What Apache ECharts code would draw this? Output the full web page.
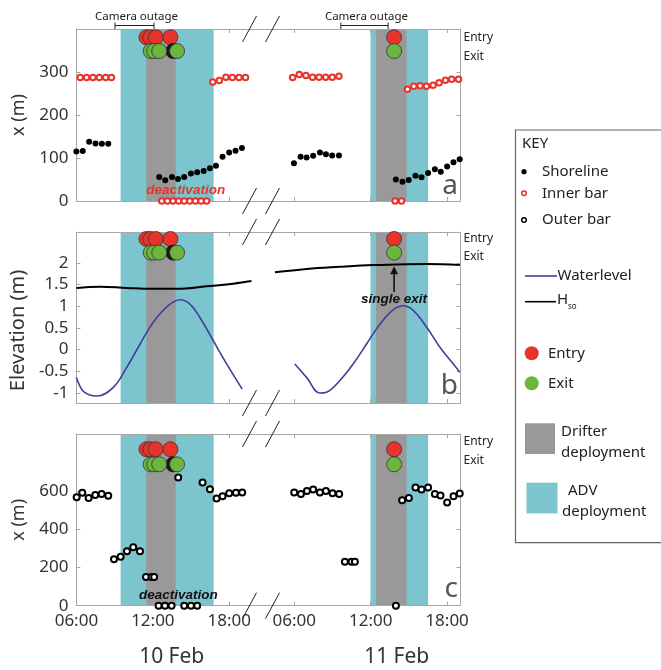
<!DOCTYPE html>
<html>
<head>
<meta charset="utf-8">
<script src="https://cdn.jsdelivr.net/npm/echarts@6/dist/echarts.min.js"></script>
<style>
  html, body { margin: 0; background: #fff; }
  #main { width: 661px; height: 670px; }
</style>
</head>
<body>
<div id="main"></div>
<script>
var FONT = 'Noto Sans';
var ANNOT = 'Liberation Sans';
var D2 = 24;   // 11 Feb times are stored as clock hours and shifted by a day

// time axis (hours since 10 Feb 00:00), broken overnight
var hourTicks = [6, 12, 18, 30, 36, 42];
var breakStart = 19.75, breakEnd = 26.66;

// panel tick labels
var ticksA = [0, 100, 200, 300];
var ticksB = [-1, -0.5, 0, 0.5, 1, 1.5, 2];
var ticksC = [0, 200, 400, 600];

// deployments (clock hours)
var adv1 = [9.47, 16.77], drifter1 = [11.48, 13.79];
var adv2 = [11.99, 16.51], drifter2 = [12.41, 14.82];
var outage1 = [9.03, 12.09], outage2 = [9.66, 13.37];

// drifter entry / exit times
var entry1 = [11.5, 11.8, 12.23, 13.38];
var exit1 = [11.83, 12.1, 12.5, 13.9];
var exitDark1 = [13.6];
var entry2 = [13.84];
var exit2 = [13.84];

// shoreline (m)
var shore1T = [6.0, 6.5, 7.0, 7.5, 8.0, 8.5, 12.5, 12.97, 13.5, 13.97, 14.46, 14.99, 15.48, 15.99, 16.48, 16.95, 17.47, 17.99, 18.49, 18.99];
var shore1X = [115, 116, 138, 134, 133, 133, 56, 48, 56, 51, 56, 64, 67, 70, 76, 82, 103, 113, 117, 123];
var shore2T = [5.98, 6.5, 6.97, 7.49, 8.02, 8.49, 8.98, 9.51, 13.98, 14.5, 14.99, 15.52, 15.99, 16.51, 17.04, 17.5, 18.0, 18.5, 18.99];
var shore2X = [88, 103, 101, 105, 113, 109, 106, 106, 50, 45, 49, 59, 55, 65, 74, 68, 80, 90, 97];

// inner bar (m)
var inner1T = [6.3, 6.8, 7.3, 7.8, 8.3, 8.75, 12.7, 13.14, 13.58, 14.02, 14.46, 14.9, 15.34, 15.78, 16.22, 16.7, 17.22, 17.73, 18.24, 18.76, 19.27];
var inner1X = [287, 287, 287, 287, 287, 287, 0, 0, 0, 0, 0, 0, 0, 0, 0, 277, 280, 288, 287, 287, 287];
var inner2T = [5.88, 6.4, 6.92, 7.44, 7.95, 8.47, 8.99, 9.51, 13.92, 14.42, 14.89, 15.39, 15.88, 16.38, 16.9, 17.37, 17.87, 18.36, 18.89];
var inner2X = [287, 294, 292, 288, 288, 288, 288, 290, 0, 0, 260, 267, 268, 267, 269, 275, 281, 283, 283];

// outer bar (m)
var outer1T = [6.02, 6.46, 6.96, 7.48, 7.98, 8.5, 8.95, 9.47, 9.97, 10.46, 10.99, 11.46, 11.9, 12.1, 12.45, 12.95, 13.47, 13.99, 14.46, 14.99, 15.48, 15.9, 16.48, 17.0, 17.47, 17.99, 18.52, 19.01];
var outer1X = [568, 592, 564, 580, 585, 576, 243, 257, 286, 306, 286, 150, 150, 150, 0, 0, 0, 672, 0, 0, 0, 646, 611, 562, 574, 589, 592, 594];
var outer2T = [6.0, 6.53, 7.0, 7.49, 8.02, 8.49, 9.01, 9.53, 9.98, 10.5, 10.76, 13.98, 14.47, 15.0, 15.52, 15.99, 16.51, 17.04, 17.48, 18.0, 18.5, 18.99];
var outer2X = [594, 585, 601, 609, 594, 601, 589, 586, 230, 230, 230, 0, 553, 565, 620, 609, 620, 585, 578, 541, 574, 588];

// water level (m)
var wl1T = [6.0, 6.5, 7.0, 7.6, 8.9, 9.95, 11.0, 12.03, 13.08, 14.13, 14.91, 15.69, 16.73, 17.79, 19.01];
var wl1V = [-0.64, -0.95, -1.04, -1.07, -0.87, -0.41, 0.13, 0.63, 0.98, 1.15, 1.05, 0.74, 0.21, -0.33, -0.91];
var wl2T = [6.05, 6.97, 8.01, 8.54, 9.59, 10.63, 11.68, 12.74, 13.79, 14.57, 15.36, 16.41, 17.45, 18.49, 19.0];
var wl2V = [-0.33, -0.64, -1.0, -0.98, -0.71, -0.33, 0.13, 0.59, 0.92, 1.01, 0.9, 0.51, 0.05, -0.33, -0.52];

// Hso (m)
var hso1T = [6.0, 7.86, 9.95, 12.03, 13.87, 16.22, 18.31, 19.74];
var hso1V = [1.42, 1.45, 1.42, 1.40, 1.40, 1.46, 1.52, 1.58];
var hso2T = [4.49, 6.97, 9.59, 12.2, 14.03, 16.38, 19.0];
var hso2V = [1.78, 1.86, 1.91, 1.95, 1.96, 1.97, 1.95];

var RED = '#e8332a', GREEN = '#6cb640', CYAN = '#7dc5ce', GREY = '#999999', NAVY = '#3f3f9c';

function pts(t, v, off) {
  return t.map(function (h, i) { return [h + off, v[i]]; });
}
function both(t1, v1, t2, v2) {
  return pts(t1, v1, 0).concat(pts(t2, v2, D2));
}
function at(t, y, off) {
  return t.map(function (h) { return [h + off, y]; });
}
function clock(v) {
  var h = Math.round(v) % 24;
  return (h < 10 ? '0' : '') + h + ':00';
}

var panels = [
  { top: 29, height: 172, min: 0, max: 400, ticks: ticksA, name: 'x (m)', nameSize: 18, entryY: 380.7, exitY: 348.8, tags: [380.7, 337] },
  { top: 232, height: 171, min: -1.23, max: 2.71, ticks: ticksB, name: 'Elevation (m)', nameSize: 20, entryY: 2.55, exitY: 2.235, tags: [2.565, 2.14] },
  { top: 434, height: 171.7, min: 0, max: 900, ticks: ticksC, name: 'x (m)', nameSize: 18, entryY: 820, exitY: 741, tags: [858, 760] }
];

var grids = [], xAxes = [], yAxes = [], series = [];

panels.forEach(function (p, i) {
  grids.push({ left: 76.4, right: 200.5, top: p.top, height: p.height, containLabel: false });

  ['bottom', 'top'].forEach(function (pos) {
    xAxes.push({
      type: 'value', gridIndex: i, position: pos, min: 6, max: 43.05, z: 5,
      breaks: [{ start: breakStart, end: breakEnd, gap: 0 }],
      breakArea: { show: false },
      axisLine: { show: true, onZero: false, lineStyle: { color: '#a6a6a6', width: 1 } },
      splitLine: { show: false },
      axisTick: { show: true, inside: true, length: 4, customValues: hourTicks, lineStyle: { color: '#a6a6a6' } },
      axisLabel: {
        show: pos === 'bottom' && i === 2, customValues: hourTicks, formatter: clock,
        fontSize: 17, color: '#333', margin: 7, fontFamily: FONT
      }
    });
  });

  ['left', 'right'].forEach(function (pos) {
    var left = pos === 'left';
    yAxes.push({
      type: 'value', gridIndex: i, position: pos, min: p.min, max: p.max, z: 5,
      name: left ? p.name : '', nameLocation: 'middle', nameGap: 44,
      nameTextStyle: { fontSize: p.nameSize, color: '#333', fontFamily: FONT, padding: i === 1 ? [0, 26, 0, 0] : 0 },
      axisLine: { show: true, onZero: false, lineStyle: { color: '#a6a6a6', width: 1 } },
      splitLine: { show: false },
      axisTick: { show: true, inside: true, length: 4, customValues: p.ticks, lineStyle: { color: '#a6a6a6' } },
      axisLabel: left ? {
        customValues: p.ticks, fontSize: 17, color: '#333', margin: 8, fontFamily: FONT
      } : {
        customValues: p.tags, fontSize: 12, color: '#222', margin: 3, fontFamily: FONT,
        formatter: function (v) { return Math.abs(v - p.tags[0]) < 1e-6 ? 'Entry' : 'Exit'; }
      }
    });
  });

  var xi = 2 * i, yi = 2 * i;

  // ADV and drifter deployment bands
  series.push({
    type: 'scatter', xAxisIndex: xi, yAxisIndex: yi, data: [], z: 1, silent: true,
    markArea: { silent: true, itemStyle: { color: CYAN, opacity: 1 },
      data: [[{ xAxis: adv1[0] }, { xAxis: adv1[1] }], [{ xAxis: adv2[0] + D2 }, { xAxis: adv2[1] + D2 }]] }
  });
  series.push({
    type: 'scatter', xAxisIndex: xi, yAxisIndex: yi, data: [], z: 2, silent: true,
    markArea: { silent: true, itemStyle: { color: GREY, opacity: 1 },
      data: [[{ xAxis: drifter1[0] }, { xAxis: drifter1[1] }], [{ xAxis: drifter2[0] + D2 }, { xAxis: drifter2[1] + D2 }]] }
  });

  // entry / exit markers
  series.push({
    type: 'scatter', xAxisIndex: xi, yAxisIndex: yi, z: 8, symbolSize: 15,
    itemStyle: { color: RED, borderColor: '#333', borderWidth: 0.8, opacity: 1 },
    data: at(entry1, p.entryY, 0).concat(at(entry2, p.entryY, D2))
  });
  series.push({
    type: 'scatter', xAxisIndex: xi, yAxisIndex: yi, z: 8, symbolSize: 15,
    itemStyle: { color: '#1a1a1a', borderColor: '#111', borderWidth: 0.8, opacity: 1 },
    data: at(exitDark1, p.exitY, 0)
  });
  series.push({
    type: 'scatter', xAxisIndex: xi, yAxisIndex: yi, z: 9, symbolSize: 15,
    itemStyle: { color: GREEN, borderColor: '#333', borderWidth: 0.8, opacity: 1 },
    data: at(exit1, p.exitY, 0).concat(at(exit2, p.exitY, D2))
  });

  // break marks
  series.push({
    type: 'custom', xAxisIndex: xi, yAxisIndex: yi, z: 10, silent: true, clip: false,
    data: [[breakStart - 0.01, p.min]],
    renderItem: function (params, api) {
      var cs = params.coordSys;
      var bx = api.coord([api.value(0), api.value(1)])[0];
      var kids = [];
      [cs.y, cs.y + cs.height].forEach(function (yy) {
        [bx - 2, bx + 21].forEach(function (cx) {
          kids.push({ type: 'line', shape: { x1: cx - 7, y1: yy + 13, x2: cx + 7, y2: yy - 13 },
            style: { stroke: '#222', lineWidth: 1 } });
        });
      });
      return { type: 'group', children: kids };
    }
  });
});

// panel a
series.push({
  type: 'scatter', xAxisIndex: 0, yAxisIndex: 0, z: 6, symbol: 'circle', symbolSize: 6,
  itemStyle: { color: '#000', opacity: 1 }, data: both(shore1T, shore1X, shore2T, shore2X)
});
series.push({
  type: 'scatter', xAxisIndex: 0, yAxisIndex: 0, z: 6, symbol: 'emptyCircle', symbolSize: 5.5,
  itemStyle: { color: RED, borderWidth: 1.5, opacity: 1 }, data: both(inner1T, inner1X, inner2T, inner2X)
});

// panel b
[[wl1T, wl1V, 0], [wl2T, wl2V, D2]].forEach(function (s) {
  series.push({
    type: 'line', xAxisIndex: 2, yAxisIndex: 2, z: 6, smooth: 0.4, showSymbol: false,
    lineStyle: { color: NAVY, width: 1.6 }, data: pts(s[0], s[1], s[2])
  });
});
[[hso1T, hso1V, 0], [hso2T, hso2V, D2]].forEach(function (s) {
  series.push({
    type: 'line', xAxisIndex: 2, yAxisIndex: 2, z: 6, smooth: 0.4, showSymbol: false,
    lineStyle: { color: '#000', width: 2 }, data: pts(s[0], s[1], s[2])
  });
});

// panel c
series.push({
  type: 'scatter', xAxisIndex: 4, yAxisIndex: 4, z: 6, symbol: 'emptyCircle', symbolSize: 6,
  itemStyle: { color: '#000', borderWidth: 1.5, opacity: 1 }, data: both(outer1T, outer1X, outer2T, outer2X)
});

// camera outage brackets
series.push({
  type: 'custom', xAxisIndex: 0, yAxisIndex: 0, z: 10, silent: true, clip: false,
  data: [[outage1[0], outage1[1], 400], [outage2[0] + D2, outage2[1] + D2, 400]],
  renderItem: function (params, api) {
    var a = api.coord([api.value(0), api.value(2)]);
    var b = api.coord([api.value(1), api.value(2)]);
    var y = a[1] - 3.5;
    var st = { stroke: '#222', lineWidth: 1 };
    return { type: 'group', children: [
      { type: 'line', shape: { x1: a[0], y1: y, x2: b[0], y2: y }, style: st },
      { type: 'line', shape: { x1: a[0], y1: y - 3, x2: a[0], y2: y + 3.5 }, style: st },
      { type: 'line', shape: { x1: b[0], y1: y - 3, x2: b[0], y2: y + 3.5 }, style: st },
      { type: 'text', x: (a[0] + b[0]) / 2 + 2, y: y - 2.5,
        style: { text: 'Camera outage', fill: '#222', fontSize: 11.5, fontFamily: FONT,
          align: 'center', verticalAlign: 'bottom', textAlign: 'center', textVerticalAlign: 'bottom' } }
    ] };
  }
});

// annotations
function noteSeries(xi, yi, x, y, text, color) {
  return {
    type: 'custom', xAxisIndex: xi, yAxisIndex: yi, z: 11, silent: true, clip: false,
    data: [[x, y]],
    renderItem: function (params, api) {
      var c = api.coord([api.value(0), api.value(1)]);
      return { type: 'text', x: c[0], y: c[1],
        style: { text: text, fill: color, fontSize: 13.5, fontWeight: 'bold', fontStyle: 'italic', fontFamily: ANNOT,
          align: 'center', verticalAlign: 'middle', textAlign: 'center', textVerticalAlign: 'middle' } };
    }
  };
}
series.push(noteSeries(0, 0, 14.58, 24, 'deactivation', RED));
series.push(noteSeries(4, 4, 14.0, 52, 'deactivation', '#111'));

// single exit arrow
series.push({
  type: 'custom', xAxisIndex: 2, yAxisIndex: 2, z: 11, silent: true, clip: false,
  data: [[exit2[0] + D2, 1.16, 1.33, 1.92]],
  renderItem: function (params, api) {
    var t = api.coord([api.value(0), api.value(1)]);
    var s = api.coord([api.value(0), api.value(2)]);
    var e = api.coord([api.value(0), api.value(3)]);
    return { type: 'group', children: [
      { type: 'line', shape: { x1: s[0], y1: s[1], x2: e[0], y2: e[1] + 6 }, style: { stroke: '#111', lineWidth: 1.6 } },
      { type: 'polygon', shape: { points: [[e[0], e[1]], [e[0] - 4, e[1] + 8], [e[0] + 4, e[1] + 8]] }, style: { fill: '#111' } },
      { type: 'text', x: t[0], y: t[1],
        style: { text: 'single exit', fill: '#111', fontSize: 13.5, fontWeight: 'bold', fontStyle: 'italic', fontFamily: ANNOT,
          align: 'center', verticalAlign: 'middle', textAlign: 'center', textVerticalAlign: 'middle' } }
    ] };
  }
});

function txt(x, y, text, size, extra) {
  var st = { text: text, x: x, y: y, fill: '#222', fontSize: size, fontFamily: FONT,
    textAlign: 'left', textVerticalAlign: 'middle', align: 'left', verticalAlign: 'middle' };
  for (var k in extra) st[k] = extra[k];
  return { type: 'text', style: st, z: 20 };
}

var graphic = [
  // panel letters and day labels
  txt(458, 186, 'a', 28, { fill: '#555', textAlign: 'right', align: 'right' }),
  txt(458, 386, 'b', 28, { fill: '#555', textAlign: 'right', align: 'right' }),
  txt(458, 589, 'c', 28, { fill: '#555', textAlign: 'right', align: 'right' }),
  txt(171.7, 657, '10 Feb', 21, { fill: '#333', textAlign: 'center', align: 'center' }),
  txt(396.7, 657, '11 Feb', 21, { fill: '#333', textAlign: 'center', align: 'center' }),

  // key box
  { type: 'rect', shape: { x: 515.5, y: 130, width: 150, height: 412.7 }, style: { fill: 'none', stroke: '#666', lineWidth: 1.2 }, z: 19 },
  txt(522, 144, 'KEY', 15),
  { type: 'circle', shape: { cx: 524, cy: 171.7, r: 2.6 }, style: { fill: '#000' }, z: 20 },
  txt(542, 171.7, 'Shoreline', 15),
  { type: 'circle', shape: { cx: 524, cy: 193.3, r: 2.3 }, style: { fill: '#fff', stroke: RED, lineWidth: 1.5 }, z: 20 },
  txt(542, 193.3, 'Inner bar', 15),
  { type: 'circle', shape: { cx: 524, cy: 220, r: 2.3 }, style: { fill: '#fff', stroke: '#000', lineWidth: 1.5 }, z: 20 },
  txt(542, 220, 'Outer bar', 15),
  { type: 'line', shape: { x1: 525, y1: 276, x2: 557, y2: 276 }, style: { stroke: NAVY, lineWidth: 1.6 }, z: 20 },
  txt(557.5, 276, 'Waterlevel', 15),
  { type: 'line', shape: { x1: 525, y1: 301.7, x2: 556, y2: 301.7 }, style: { stroke: '#000', lineWidth: 1.6 }, z: 20 },
  txt(557, 300, 'H', 15),
  txt(568, 306.5, 'so', 8),
  { type: 'circle', shape: { cx: 531.7, cy: 353.3, r: 7 }, style: { fill: RED }, z: 20 },
  txt(548, 353.3, 'Entry', 15),
  { type: 'circle', shape: { cx: 531.7, cy: 383.3, r: 7 }, style: { fill: GREEN }, z: 20 },
  txt(548, 383.3, 'Exit', 15),
  { type: 'rect', shape: { x: 525, y: 423.3, width: 30, height: 30.7 }, style: { fill: GREY }, z: 20 },
  txt(561, 432, 'Drifter', 15),
  txt(561, 453, 'deployment', 15),
  { type: 'rect', shape: { x: 526.5, y: 482.7, width: 31, height: 30.7 }, style: { fill: CYAN }, z: 20 },
  txt(568, 491, 'ADV', 15),
  txt(562, 512, 'deployment', 15)
];

var chart = echarts.init(document.getElementById('main'), null, { renderer: 'canvas' });
chart.setOption({
  animation: false,
  backgroundColor: '#fff',
  textStyle: { fontFamily: FONT },
  grid: grids,
  xAxis: xAxes,
  yAxis: yAxes,
  series: series,
  graphic: graphic
});
</script>
</body>
</html>
